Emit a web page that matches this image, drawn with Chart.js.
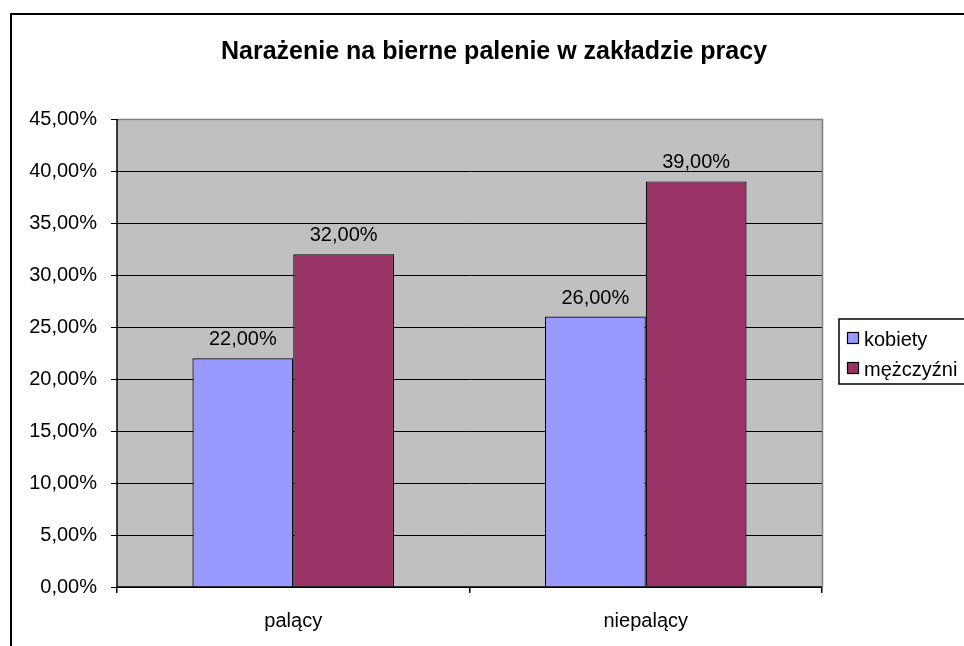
<!DOCTYPE html>
<html>
<head>
<meta charset="utf-8">
<script src="https://cdn.jsdelivr.net/npm/chart.js@4/dist/chart.umd.min.js"></script>
<style>
html,body{margin:0;padding:0;background:#fff;overflow:hidden;}
#wrap{position:relative;width:964px;height:646px;}
</style>
</head>
<body>
<div id="wrap"><canvas id="c" width="964" height="646"></canvas></div>
<script>
const titleText = 'Narażenie na bierne palenie w zakładzie pracy';
const categories = ['palący', 'niepalący'];
const seriesNames = ['kobiety', 'mężczyźni'];
const kobiety = [22, 26];
const mezczyzni = [32, 39];
const yMin = 0, yMax = 45, yStep = 5;

const FONT = '"Liberation Sans", Arial, sans-serif';
const fmt = v => v.toFixed(2).replace('.', ',') + '%';

const decor = {
  id: 'decor',
  beforeDraw(chart) {
    const {ctx, chartArea: a} = chart;
    ctx.save();
    ctx.fillStyle = '#fff';
    ctx.fillRect(0, 0, chart.width, chart.height);
    ctx.strokeStyle = '#000';
    ctx.lineWidth = 2;
    ctx.strokeRect(11, 14, 1100, 800);
    ctx.fillStyle = '#C0C0C0';
    ctx.fillRect(a.left, a.top, a.right - a.left, a.bottom - a.top);
    ctx.restore();
  },
  afterDraw(chart) {
    const {ctx, chartArea: a} = chart;
    ctx.save();
    ctx.strokeStyle = '#808080';
    ctx.lineWidth = 1.5;
    ctx.beginPath();
    ctx.moveTo(a.left, a.top + 0.5);
    ctx.lineTo(a.right + 0.5, a.top + 0.5);
    ctx.lineTo(a.right + 0.5, a.bottom);
    ctx.stroke();
    ctx.strokeStyle = '#000';
    ctx.lineWidth = 1.5;
    ctx.beginPath();
    ctx.moveTo(a.left, a.top);
    ctx.lineTo(a.left, a.bottom);
    ctx.lineTo(a.right, a.bottom);
    ctx.stroke();

    ctx.fillStyle = '#000';
    ctx.font = 'bold 25px ' + FONT;
    ctx.textAlign = 'center';
    ctx.textBaseline = 'alphabetic';
    ctx.fillText(titleText, 494, 59);

    ctx.font = '20px ' + FONT;
    chart.data.datasets.forEach((ds, i) => {
      const meta = chart.getDatasetMeta(i);
      meta.data.forEach((bar, j) => {
        ctx.fillText(fmt(ds.data[j]), bar.x, bar.y - 13);
      });
    });

    const lx = 839, ly = 319;
    ctx.fillStyle = '#fff';
    ctx.fillRect(lx, ly, 200, 65);
    ctx.strokeStyle = '#000';
    ctx.lineWidth = 1.5;
    ctx.strokeRect(lx, ly, 200, 65);
    ctx.textAlign = 'left';
    ctx.textBaseline = 'middle';
    ctx.font = '20px ' + FONT;
    chart.data.datasets.forEach((ds, i) => {
      const y = ly + 19 + i * 30;
      ctx.fillStyle = ds.backgroundColor;
      ctx.fillRect(lx + 8, y - 6, 11, 11);
      ctx.strokeStyle = '#000';
      ctx.lineWidth = 1.2;
      ctx.strokeRect(lx + 8.5, y - 5.5, 11, 11);
      ctx.fillStyle = '#000';
      ctx.fillText(ds.label, lx + 25, y + 2);
    });
    ctx.restore();
  }
};

new Chart(document.getElementById('c'), {
  type: 'bar',
  data: {
    labels: categories,
    datasets: [
      {label: seriesNames[0], data: kobiety, backgroundColor: '#9999FF', borderColor: '#000', borderWidth: 1.2},
      {label: seriesNames[1], data: mezczyzni, backgroundColor: '#993366', borderColor: '#000', borderWidth: 1.2}
    ]
  },
  options: {
    responsive: false,
    animation: false,
    devicePixelRatio: 1,
    layout: {padding: {left: 0, right: 142, top: 119, bottom: 0}},
    plugins: {legend: {display: false}, title: {display: false}, tooltip: {enabled: false}},
    datasets: {bar: {categoryPercentage: 0.572, barPercentage: 1}},
    scales: {
      x: {
        afterFit(s) { s.height = 59; },
        grid: {offset: true, drawOnChartArea: false, color: '#000', tickLength: 6, lineWidth: 1.5},
        border: {display: false},
        ticks: {color: '#000', font: {family: FONT, size: 20}, padding: 16}
      },
      y: {
        min: yMin, max: yMax,
        afterFit(s) { s.width = 117; },
        grid: {color: '#000', tickLength: 6, lineWidth: 1},
        border: {display: false},
        ticks: {stepSize: yStep, color: '#000', font: {family: FONT, size: 20}, padding: 14,
          callback: v => fmt(v)}
      }
    }
  },
  plugins: [decor]
});
</script>
</body>
</html>
